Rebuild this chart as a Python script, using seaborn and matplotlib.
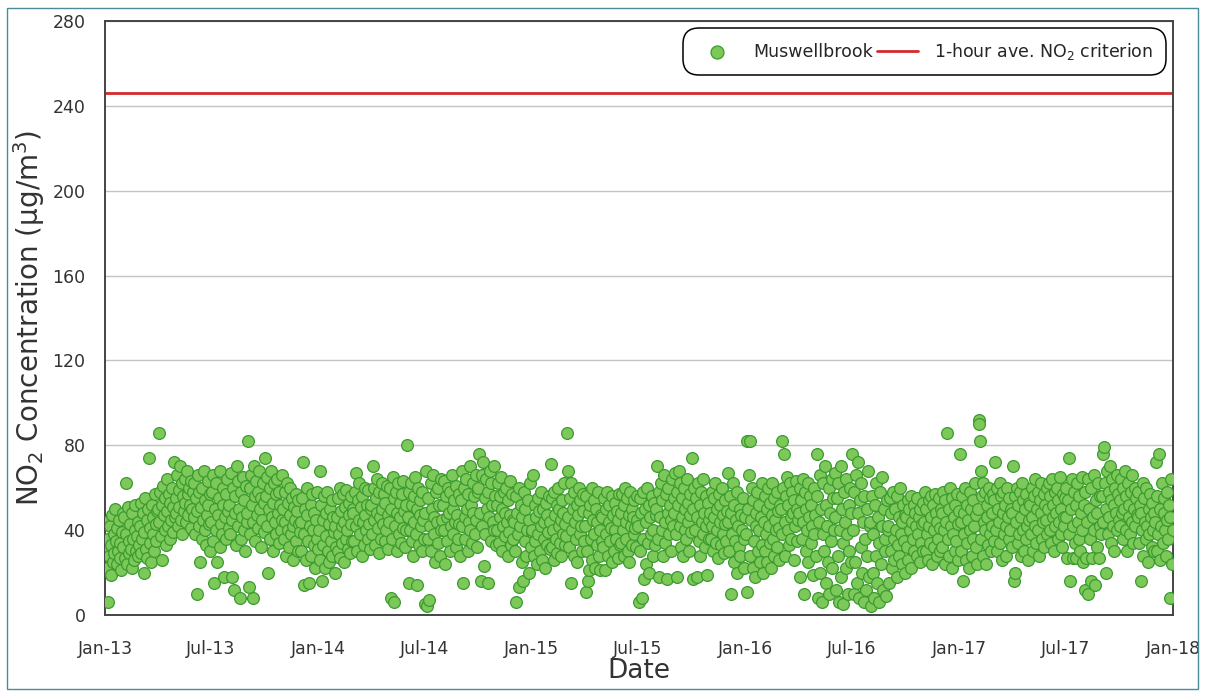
import numpy as np
import pandas as pd
import matplotlib
matplotlib.use("Agg")
import matplotlib.pyplot as plt
import matplotlib.dates as mdates
from matplotlib.patches import Rectangle
import seaborn as sns

# -------------------------------
# Data: NO2 readings at Muswellbrook
# -------------------------------

years = [2013, 2014, 2015, 2016, 2017]
CRITERION = 246  # 1-hour average NO2 criterion (ug/m3)

no2_2013 = [
    [44, 31, 22, 6, 36, 28, 42, 19, 33, 47, 25, 38, 29, 50, 35, 24, 41, 30, 45, 27, 34, 21, 39, 48],
    [32, 46, 27, 62, 38, 24, 51, 35, 29, 43, 31, 22, 48, 36, 26, 40, 52, 30, 37, 28, 44, 33],
    [42, 29, 53, 36, 48, 20, 39, 55, 31, 45, 27, 50, 74, 34, 41, 25, 52, 38, 46, 30, 57, 43, 35, 49],
    [50, 86, 44, 58, 37, 52, 26, 61, 47, 40, 55, 33, 64, 49, 42, 57, 36, 53, 45, 60, 39, 51, 72, 46],
    [55, 48, 66, 42, 59, 51, 70, 45, 62, 38, 56, 49, 64, 53, 44, 68, 57, 47, 60, 52, 41, 63, 50, 58],
    [46, 62, 38, 55, 10, 49, 66, 42, 58, 25, 51, 36, 60, 45, 68, 40, 54, 33, 47, 63, 52, 43, 57, 30],
    [44, 58, 35, 66, 15, 50, 40, 62, 25, 47, 55, 32, 68, 43, 38, 60, 52, 18, 46, 57, 36, 64, 49, 41],
    [52, 38, 67, 45, 18, 60, 12, 48, 56, 33, 70, 42, 63, 50, 8, 58, 36, 46, 65, 40, 54, 30, 61, 44],
    [48, 82, 13, 60, 38, 66, 52, 8, 44, 70, 56, 35, 63, 47, 58, 41, 68, 50, 32, 55, 45, 62, 39, 53],
    [74, 56, 42, 65, 20, 50, 60, 36, 68, 46, 53, 30, 62, 44, 57, 38, 64, 48, 34, 58, 52, 40, 66, 45],
    [50, 36, 58, 44, 28, 62, 40, 53, 32, 47, 60, 38, 55, 42, 26, 51, 45, 57, 35, 49, 30, 54, 43, 39],
    [44, 30, 55, 72, 38, 14, 50, 26, 47, 60, 35, 15, 42, 52, 28, 57, 40, 33, 48, 22, 45, 58, 36, 31],
]

no2_2014 = [
    [40, 68, 26, 52, 16, 45, 33, 56, 22, 48, 37, 58, 30, 43, 25, 50, 35, 54, 28, 46, 39, 20, 42, 32],
    [46, 30, 55, 38, 60, 27, 49, 42, 34, 57, 44, 25, 51, 36, 59, 40, 31, 53, 47, 29, 43, 56, 35, 50],
    [48, 35, 58, 67, 42, 30, 54, 45, 62, 38, 51, 28, 56, 44, 33, 60, 47, 40, 52, 36, 59, 43, 31, 50],
    [52, 38, 70, 45, 60, 33, 55, 48, 64, 41, 29, 58, 46, 36, 62, 50, 43, 57, 35, 53, 40, 61, 47, 31],
    [44, 60, 8, 50, 36, 65, 6, 55, 42, 58, 30, 48, 62, 38, 53, 46, 34, 57, 41, 63, 49, 32, 52, 40],
    [80, 46, 58, 15, 40, 62, 35, 52, 28, 56, 44, 65, 38, 14, 50, 60, 33, 47, 54, 42, 30, 58, 45, 36],
    [5, 48, 68, 4, 36, 55, 7, 42, 62, 30, 50, 66, 38, 46, 25, 58, 44, 34, 60, 52, 28, 40, 64, 45],
    [52, 40, 63, 24, 56, 46, 35, 60, 48, 30, 58, 42, 66, 50, 38, 54, 44, 32, 61, 47, 36, 57, 43, 28],
    [54, 42, 68, 15, 60, 46, 36, 64, 50, 30, 57, 44, 70, 40, 52, 34, 62, 48, 56, 38, 66, 45, 32, 58],
    [60, 76, 48, 16, 66, 42, 72, 23, 55, 38, 64, 50, 15, 58, 46, 68, 35, 62, 52, 44, 70, 40, 56, 33],
    [52, 40, 62, 34, 56, 46, 65, 30, 50, 42, 58, 37, 48, 60, 44, 28, 54, 39, 63, 47, 33, 57, 45, 36],
    [44, 30, 56, 6, 48, 38, 60, 13, 42, 52, 25, 46, 16, 58, 35, 50, 28, 40, 54, 20, 45, 62, 32, 39],
]

no2_2015 = [
    [40, 66, 28, 52, 35, 46, 24, 55, 38, 49, 30, 58, 42, 26, 50, 36, 44, 22, 53, 33, 47, 39, 56, 31],
    [44, 71, 32, 55, 40, 26, 58, 47, 36, 52, 29, 60, 42, 50, 34, 45, 28, 54, 38, 48, 62, 33, 43, 37],
    [86, 46, 68, 32, 55, 15, 62, 40, 50, 28, 58, 44, 36, 52, 25, 47, 60, 38, 54, 42, 30, 49, 57, 35],
    [42, 11, 56, 30, 16, 48, 21, 52, 36, 60, 26, 45, 38, 54, 22, 50, 33, 44, 58, 28, 40, 21, 47, 35],
    [46, 32, 55, 21, 50, 38, 58, 28, 44, 52, 35, 41, 25, 56, 47, 30, 53, 40, 36, 49, 27, 45, 57, 33],
    [48, 34, 57, 40, 52, 28, 60, 44, 36, 55, 30, 47, 25, 58, 42, 50, 33, 46, 38, 54, 41, 32, 56, 45],
    [42, 6, 55, 30, 48, 8, 58, 36, 17, 50, 24, 44, 60, 34, 52, 20, 46, 38, 56, 28, 40, 53, 33, 47],
    [50, 70, 36, 58, 18, 46, 62, 40, 54, 28, 66, 44, 34, 57, 17, 48, 60, 38, 52, 30, 45, 64, 42, 55],
    [48, 67, 38, 58, 18, 52, 68, 42, 62, 32, 55, 46, 28, 60, 40, 50, 36, 64, 44, 53, 30, 57, 47, 39],
    [74, 50, 17, 60, 40, 55, 18, 46, 62, 35, 52, 28, 58, 44, 38, 64, 48, 32, 56, 42, 19, 53, 45, 36],
    [48, 36, 58, 42, 30, 55, 46, 62, 34, 50, 40, 27, 57, 44, 52, 33, 60, 38, 47, 29, 54, 43, 35, 49],
    [44, 67, 30, 56, 10, 48, 38, 62, 25, 52, 35, 45, 20, 58, 42, 32, 50, 28, 47, 40, 55, 36, 22, 46],
]

no2_2016 = [
    [38, 82, 11, 50, 66, 82, 28, 45, 60, 22, 54, 35, 18, 48, 42, 58, 30, 40, 52, 25, 46, 62, 33, 20],
    [44, 30, 56, 38, 50, 25, 60, 42, 34, 53, 22, 47, 62, 36, 55, 28, 45, 40, 58, 32, 49, 41, 26, 52],
    [50, 82, 38, 60, 76, 44, 28, 56, 65, 40, 52, 33, 62, 46, 36, 58, 48, 26, 54, 42, 63, 35, 50, 45],
    [48, 60, 18, 54, 36, 64, 44, 10, 58, 30, 50, 40, 62, 25, 46, 56, 34, 52, 42, 19, 60, 38, 47, 28],
    [56, 76, 8, 44, 66, 20, 50, 6, 62, 38, 30, 70, 15, 52, 42, 25, 60, 10, 48, 35, 64, 22, 55, 40],
    [46, 67, 12, 55, 28, 62, 6, 40, 70, 18, 50, 34, 5, 58, 44, 22, 64, 38, 10, 52, 30, 60, 25, 48],
    [76, 40, 10, 58, 25, 66, 15, 48, 72, 8, 54, 32, 62, 20, 44, 6, 56, 36, 12, 50, 28, 68, 18, 42],
    [44, 4, 56, 20, 38, 8, 52, 28, 62, 15, 46, 34, 6, 58, 24, 42, 65, 12, 50, 30, 36, 9, 54, 40],
    [42, 15, 55, 30, 48, 22, 58, 36, 26, 50, 40, 18, 56, 33, 46, 28, 60, 38, 44, 24, 52, 35, 20, 47],
    [46, 32, 54, 26, 50, 40, 56, 22, 44, 36, 52, 30, 48, 42, 28, 55, 38, 46, 25, 50, 34, 43, 53, 30],
    [44, 58, 30, 50, 38, 26, 54, 42, 34, 56, 46, 24, 52, 40, 32, 57, 48, 28, 44, 36, 55, 41, 30, 50],
    [48, 32, 58, 40, 24, 54, 44, 86, 36, 50, 28, 60, 42, 22, 55, 38, 46, 30, 52, 35, 57, 43, 26, 49],
]

no2_2017 = [
    [76, 44, 30, 56, 16, 48, 38, 60, 26, 52, 34, 45, 22, 58, 40, 50, 28, 54, 36, 42, 62, 32, 47, 24],
    [50, 92, 90, 82, 68, 36, 56, 28, 62, 44, 40, 58, 24, 52, 46, 33, 60, 38, 55, 30, 48, 42, 57, 35],
    [54, 72, 40, 60, 30, 50, 44, 62, 34, 56, 26, 48, 58, 38, 52, 42, 28, 60, 46, 36, 55, 40, 50, 32],
    [48, 70, 16, 56, 20, 44, 60, 34, 52, 38, 58, 28, 46, 62, 40, 54, 30, 50, 36, 57, 42, 26, 53, 45],
    [52, 38, 60, 46, 30, 56, 42, 64, 34, 50, 58, 40, 28, 54, 48, 62, 36, 44, 57, 32, 52, 45, 60, 38],
    [50, 62, 40, 56, 34, 64, 46, 52, 30, 58, 42, 48, 60, 36, 54, 44, 65, 38, 50, 32, 57, 46, 42, 55],
    [46, 60, 27, 54, 74, 38, 16, 50, 64, 27, 42, 58, 34, 52, 27, 62, 44, 36, 56, 30, 48, 40, 65, 25],
    [52, 12, 58, 27, 44, 64, 10, 50, 36, 16, 60, 27, 46, 40, 66, 14, 54, 32, 48, 62, 27, 42, 56, 38],
    [56, 76, 44, 79, 62, 20, 50, 68, 38, 58, 46, 70, 34, 54, 64, 42, 52, 30, 60, 48, 66, 40, 57, 45],
    [54, 42, 64, 48, 36, 60, 50, 68, 40, 56, 30, 62, 46, 52, 38, 58, 44, 66, 34, 50, 60, 42, 55, 47],
    [46, 58, 34, 52, 16, 48, 40, 62, 28, 55, 44, 36, 60, 42, 25, 50, 38, 57, 46, 32, 53, 40, 48, 30],
    [44, 72, 30, 56, 38, 76, 26, 50, 42, 62, 34, 48, 55, 40, 28, 58, 45, 36, 52, 8, 46, 64, 24, 40],
]

# spread each month's readings across the days of that month
rows = []
for year, months in zip(years, [no2_2013, no2_2014, no2_2015, no2_2016, no2_2017]):
    for month, vals in enumerate(months, start=1):
        start = pd.Timestamp(year, month, 1)
        ndays = start.days_in_month
        for i, v in enumerate(vals):
            rows.append((start + pd.Timedelta(days=(i + 0.5) * ndays / len(vals)), v))
df = pd.DataFrame(rows, columns=["date", "no2"])


# -------------------------------
# Plot
# -------------------------------

sns.set_style("white")
plt.rcParams["font.family"] = ["DejaVu Sans"]

fig = plt.figure(figsize=(12.05, 6.93), dpi=100)
ax = fig.add_axes([0.0871, 0.1126, 0.8863, 0.8571])

ax.yaxis.grid(True, color="#c4c4c4", lw=1)
ax.set_axisbelow(True)

sns.scatterplot(data=df, x="date", y="no2", ax=ax, s=72, color="#7cc858",
                edgecolor="#3b9a30", linewidth=0.9, label="Muswellbrook", zorder=3)
ax.axhline(CRITERION, color="#d42a2a", lw=2, label="1-hour ave. NO$_2$ criterion", zorder=2)

ax.set_xlim(pd.Timestamp("2013-01-01"), pd.Timestamp("2018-01-01"))
ax.set_ylim(0, 280)
ax.set_yticks(range(0, 281, 40))
ax.xaxis.set_major_locator(mdates.MonthLocator(bymonth=[1, 7]))
ax.xaxis.set_major_formatter(mdates.DateFormatter("%b-%y"))

ax.tick_params(direction="out", length=8, width=1.3, color="#444444",
               labelsize=12.5, labelcolor="#333333", pad=6)
ax.tick_params(axis="x", length=10, pad=8)
for side in ["left", "bottom", "top", "right"]:
    ax.spines[side].set_color("#444444")
    ax.spines[side].set_linewidth(1.4)

ax.set_xlabel("Date", fontsize=19, color="#333333", labelpad=0)
ax.set_ylabel("NO$_2$ Concentration (µg/m$^3$)", fontsize=20, color="#333333", labelpad=4)

leg = ax.legend(loc="upper right", ncol=2, frameon=True, fancybox=True, fontsize=12.5,
                columnspacing=0.2, handletextpad=0.9, borderaxespad=0.7, borderpad=0.45,
                handlelength=2.4, markerscale=1.1)
leg.get_frame().set_edgecolor("black")
leg.get_frame().set_linewidth(1.1)
leg.get_frame().set_boxstyle("round,pad=0.3,rounding_size=0.9")
leg.get_frame().set_alpha(1)

# thin frame around the whole picture
fig.patches.append(Rectangle((0.006, 0.006), 0.988, 0.982, transform=fig.transFigure,
                             fill=False, edgecolor="#4b8c99", lw=1))

fig.savefig("out.png", dpi=100)
print("saved out.png,", len(df), "points")
